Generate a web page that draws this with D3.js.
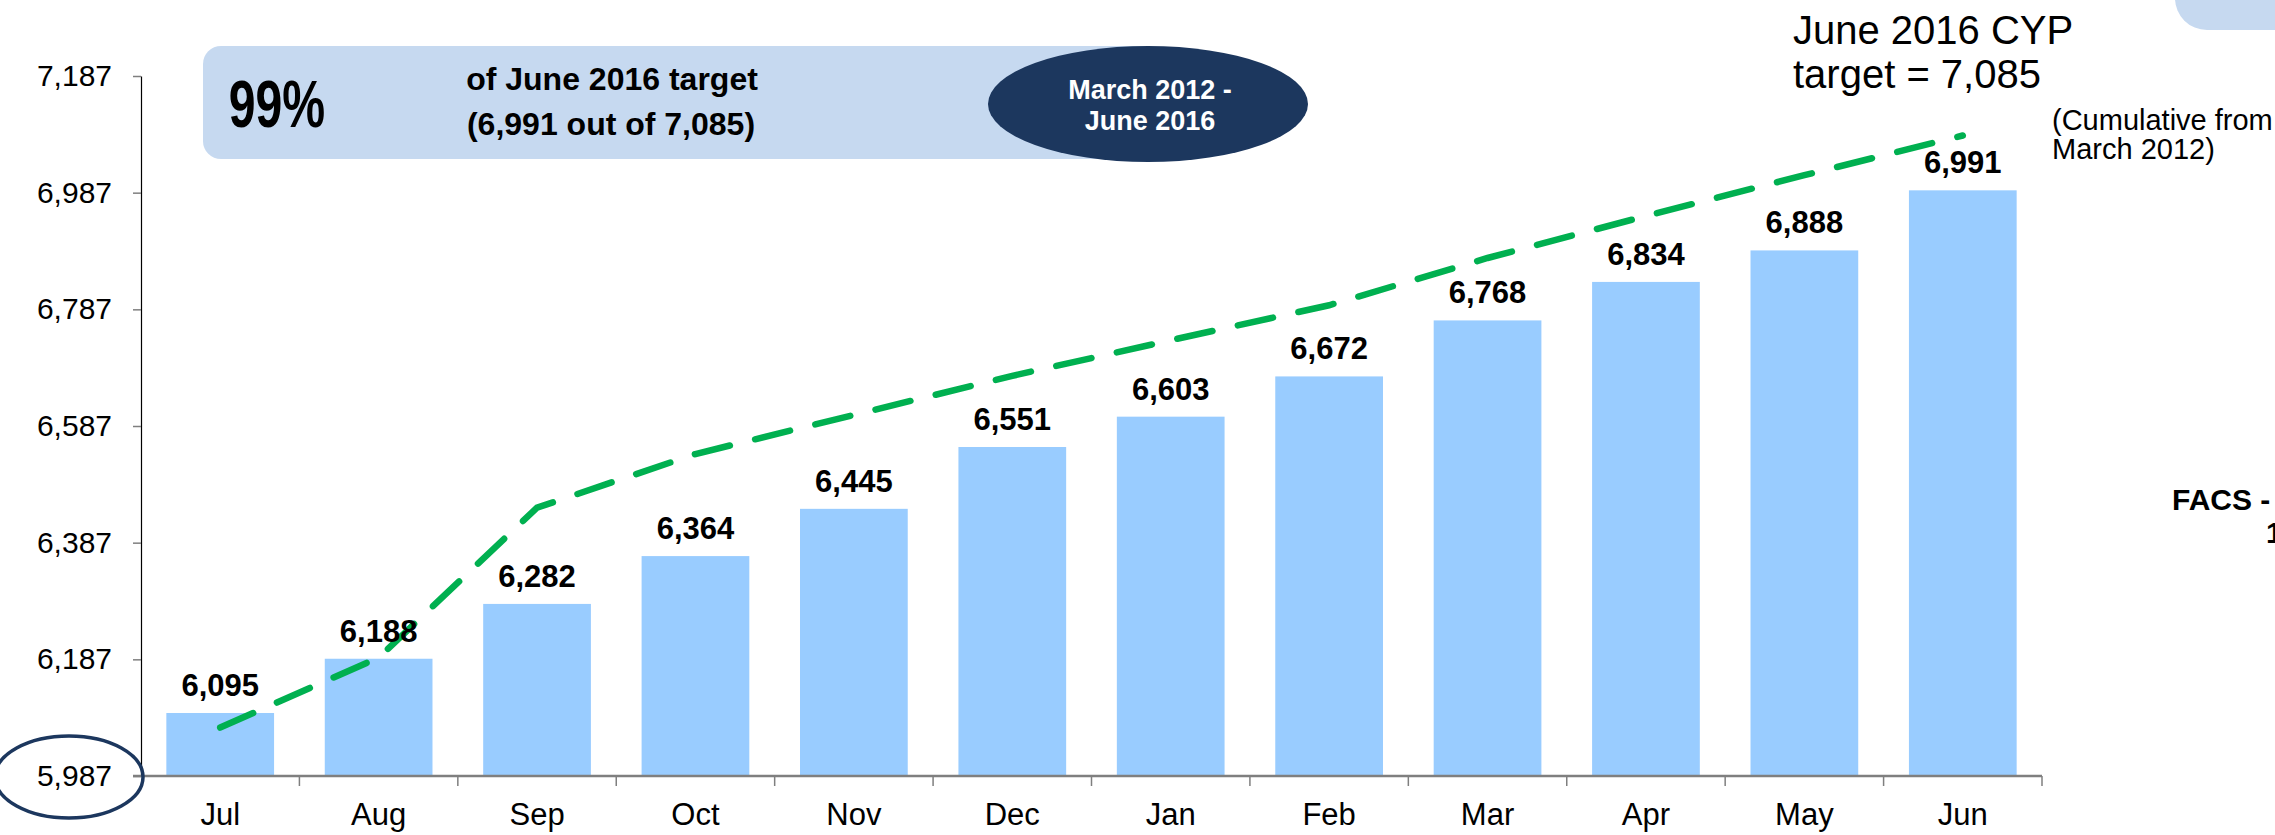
<!DOCTYPE html>
<html lang="en">
<head>
    <meta charset="UTF-8">
    <title>CYP progress</title>
    <script src="https://d3js.org/d3.v7.min.js"></script>
    <style>
        body { margin: 0; background: #fff; }
        svg { display: block; font-family: "Liberation Sans", Arial, sans-serif; }
    </style>
</head>
<body>
    <svg id="chart" width="2275" height="835"></svg>
    <script>
        // data
        const months = ["Jul", "Aug", "Sep", "Oct", "Nov", "Dec", "Jan", "Feb", "Mar", "Apr", "May", "Jun"];
        const achieved = [6095, 6188, 6282, 6364, 6445, 6551, 6603, 6672, 6768, 6834, 6888, 6991];
        const target = [6070, 6190, 6447, 6539, 6606, 6673, 6734, 6794, 6875, 6947, 7017, 7085];
        const yTicks = [5987, 6187, 6387, 6587, 6787, 6987, 7187];

        const svg = d3.select("#chart");

        let x = d3.scaleBand().domain(months).range([141, 2042]).paddingInner(0.32).paddingOuter(0.16);
        let y = d3.scaleLinear().domain([5987, 7187]).range([776, 76]);

        // header box
        svg.append("rect").attr("x", 203).attr("y", 46).attr("width", 960).attr("height", 113)
            .attr("rx", 18).attr("fill", "#c6d9f0");
        // corner box top right (cut off)
        svg.append("rect").attr("x", 2175).attr("y", -40).attr("width", 200).attr("height", 70)
            .attr("rx", 32).attr("fill", "#c6d9f0");

        // bars
        svg.append("g").selectAll("rect").data(achieved).enter().append("rect")
            .attr("x", (d, i) => x(months[i]))
            .attr("y", d => y(d))
            .attr("width", x.bandwidth())
            .attr("height", d => y(5987) - y(d))
            .attr("fill", "#99ccff");

        // y axis
        const yAxis = svg.append("g").attr("transform", "translate(141,0)")
            .call(d3.axisLeft(y).tickValues(yTicks).tickFormat(d3.format(",")).tickSize(8).tickSizeOuter(0).tickPadding(21));
        yAxis.select(".domain").attr("stroke", "#000").attr("stroke-width", 1.2);
        yAxis.selectAll(".tick line").attr("stroke", "#7f7f7f").attr("stroke-width", 1.5);
        yAxis.selectAll(".tick text").attr("font-size", 30).attr("fill", "#000")
            .attr("font-family", "Liberation Sans, Arial, sans-serif");

        // x axis (labels centred, ticks between the bands)
        const xAxis = svg.append("g").attr("transform", "translate(0,776)")
            .call(d3.axisBottom(x).tickSize(0).tickPadding(27));
        xAxis.select(".domain").remove();
        xAxis.selectAll(".tick text").attr("font-size", 31).attr("fill", "#000")
            .attr("font-family", "Liberation Sans, Arial, sans-serif");
        svg.append("line").attr("x1", 133).attr("x2", x.range()[1]).attr("y1", 776).attr("y2", 776)
            .attr("stroke", "#7f7f7f").attr("stroke-width", 2.5);
        svg.append("g").selectAll("line").data(d3.range(1, months.length + 1)).enter().append("line")
            .attr("x1", i => x.range()[0] + i * x.step())
            .attr("x2", i => x.range()[0] + i * x.step())
            .attr("y1", 776).attr("y2", 786)
            .attr("stroke", "#7f7f7f").attr("stroke-width", 1.5);

        // target line
        const line = d3.line()
            .x((d, i) => x(months[i]) + x.bandwidth() / 2)
            .y(d => y(d));
        svg.append("path").datum(target).attr("d", line)
            .attr("fill", "none").attr("stroke", "#00b050").attr("stroke-width", 6.5)
            .attr("stroke-dasharray", "36,26").attr("stroke-linecap", "round");

        // value labels
        svg.append("g").selectAll("text").data(achieved).enter().append("text")
            .attr("x", (d, i) => x(months[i]) + x.bandwidth() / 2)
            .attr("y", d => y(d) - 17)
            .attr("text-anchor", "middle").attr("font-size", 31).attr("font-weight", "bold")
            .text(d3.format(","));

        // ellipse around the base value
        svg.append("ellipse").attr("cx", 69).attr("cy", 777).attr("rx", 74).attr("ry", 41)
            .attr("fill", "none").attr("stroke", "#1c375e").attr("stroke-width", 3.5);

        // header texts
        svg.append("text").attr("x", 277).attr("y", 127).attr("text-anchor", "middle")
            .attr("font-size", 66).attr("font-weight", "bold")
            .attr("transform", "translate(277,0) scale(0.73,1) translate(-277,0)")
            .text("99%");
        svg.append("text").attr("x", 612).attr("y", 90).attr("text-anchor", "middle")
            .attr("font-size", 32).attr("font-weight", "bold").text("of June 2016 target");
        svg.append("text").attr("x", 611).attr("y", 135).attr("text-anchor", "middle")
            .attr("font-size", 32).attr("font-weight", "bold").text("(6,991 out of 7,085)");

        svg.append("ellipse").attr("cx", 1148).attr("cy", 104).attr("rx", 160).attr("ry", 58)
            .attr("fill", "#1c375e");
        svg.append("text").attr("x", 1150).attr("y", 99).attr("text-anchor", "middle")
            .attr("font-size", 27).attr("font-weight", "bold").attr("fill", "#fff").text("March 2012 -");
        svg.append("text").attr("x", 1150).attr("y", 130).attr("text-anchor", "middle")
            .attr("font-size", 27).attr("font-weight", "bold").attr("fill", "#fff").text("June 2016");

        // target note
        svg.append("text").attr("x", 1793).attr("y", 44).attr("font-size", 40).text("June 2016 CYP");
        svg.append("text").attr("x", 1793).attr("y", 88).attr("font-size", 40).text("target = 7,085");
        svg.append("text").attr("x", 2052).attr("y", 130).attr("font-size", 29).text("(Cumulative from");
        svg.append("text").attr("x", 2052).attr("y", 159).attr("font-size", 29).text("March 2012)");

        // cut-off label at the right edge
        svg.append("text").attr("x", 2172).attr("y", 510).attr("font-size", 30).attr("font-weight", "bold").text("FACS -");
        svg.append("text").attr("x", 2266).attr("y", 543).attr("font-size", 30).attr("font-weight", "bold").text("1");
    </script>
</body>
</html>
